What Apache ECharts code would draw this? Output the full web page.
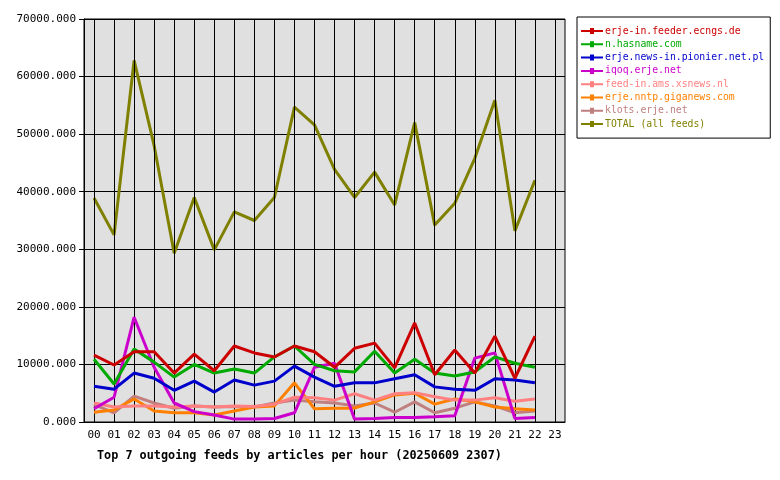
<!DOCTYPE html>
<html><head><meta charset="utf-8">
<script src="https://cdn.jsdelivr.net/npm/echarts@6/dist/echarts.min.js"></script>
<style>body{margin:0;background:#fff}#main{width:780px;height:480px}</style>
</head><body><div id="main"></div>
<script>
// hours 00..23
var hours = [];
for (var h = 0; h < 24; h++) hours.push((h < 10 ? '0' : '') + h);

var feederEcngs = [11600, 9900, 12200, 12200, 8500, 11800, 8900, 13200, 12000, 11300, 13200, 12200, 9500, 12800, 13700, 9400, 17200, 8200, 12500, 8500, 14900, 7600, 14900];
var hasname     = [10900, 6600, 12700, 10400, 7800, 10000, 8500, 9200, 8500, 11300, 13200, 10000, 8900, 8700, 12300, 8500, 10900, 8500, 8000, 8700, 11300, 10200, 9500];
var pionier     = [6200, 5700, 8500, 7600, 5500, 7100, 5200, 7300, 6400, 7100, 9700, 7800, 6200, 6800, 6800, 7500, 8200, 6100, 5700, 5500, 7500, 7300, 6800];
var iqoq        = [2300, 4300, 18200, 9500, 3300, 1800, 1200, 500, 500, 600, 1600, 9500, 10200, 500, 600, 800, 800, 900, 1100, 11100, 12000, 600, 800];
var xsnews      = [3300, 2600, 2800, 2800, 2600, 2800, 2600, 2800, 2700, 3100, 4300, 4200, 3800, 4900, 3800, 4900, 5100, 4400, 3800, 3800, 4200, 3600, 4000];
var giganews    = [1700, 2100, 4000, 1900, 1600, 1600, 1200, 1900, 2600, 2800, 6800, 2300, 2400, 2400, 3500, 4700, 5000, 3100, 4000, 3500, 2600, 2300, 2100];
var klots       = [3000, 1600, 4500, 3300, 2400, 2800, 2600, 2700, 2600, 3300, 3800, 3500, 3300, 2800, 3300, 1700, 3500, 1600, 2400, 3500, 2800, 1600, 1900];
var total       = [38900, 32500, 62800, 48000, 29300, 39000, 29900, 36500, 35000, 39000, 54700, 51600, 43900, 39000, 43400, 37700, 52000, 34200, 38000, 45800, 55900, 33200, 42000];

var names = ['erje-in.feeder.ecngs.de', 'n.hasname.com', 'erje.news-in.pionier.net.pl', 'iqoq.erje.net',
  'feed-in.ams.xsnews.nl', 'erje.nntp.giganews.com', 'klots.erje.net', 'TOTAL (all feeds)'];
var colors = ['#cc0000', '#00aa00', '#0000cc', '#cc00cc', '#ff8080', '#ff8000', '#c08080', '#808000'];
var values = [feederEcngs, hasname, pionier, iqoq, xsnews, giganews, klots, total];

var font = 'DejaVu Sans Mono';
var series = names.map(function (n, i) {
  return {name: n, type: 'line', data: values[i], showSymbol: false, symbol: 'none',
    color: colors[i], lineStyle: {width: 3, color: colors[i]}, z: i === 7 ? 3 : 12 - i};
});
// vertical grid lines through each hour label
series.push({
  type: 'line', data: [], silent: true, z: 1,
  markLine: {silent: true, symbol: 'none', label: {show: false},
    lineStyle: {color: '#000', width: 1, type: 'solid'},
    data: hours.map(function (h) { return {xAxis: h}; })}
});

var chart = echarts.init(document.getElementById('main'));
chart.setOption({
  animation: false,
  textStyle: {fontFamily: font},
  title: {
    text: 'Top 7 outgoing feeds by articles per hour (20250609 2307)',
    left: 92, top: 445,
    textStyle: {fontFamily: font, fontSize: 11.8, fontWeight: 'bold', color: '#000'}
  },
  legend: {
    orient: 'vertical', left: 577, top: 17,
    padding: [9, 6, 9, 4], itemGap: 3.3,
    borderColor: '#000', borderWidth: 1, backgroundColor: '#fff',
    itemWidth: 22, itemHeight: 12,
    icon: 'path://M0,5 L22,5 L22,7 L0,7 Z M9,3 L13,3 L13,9 L9,9 Z',
    data: names.map(function (n, i) { return {name: n, textStyle: {color: colors[i]}}; }),
    textStyle: {fontFamily: font, fontSize: 9.8, padding: [0, 0, 0, -3]}
  },
  grid: {left: 84, right: 215, top: 19, bottom: 58, backgroundColor: '#e0e0e0', show: true, borderColor: '#000', borderWidth: 1},
  xAxis: {
    type: 'category', data: hours, boundaryGap: true,
    axisLine: {lineStyle: {color: '#000'}},
    axisTick: {alignWithLabel: true, lineStyle: {color: '#000'}},
    axisLabel: {color: '#000', fontFamily: font, fontSize: 11, interval: 0},
    splitLine: {show: false}
  },
  yAxis: {
    type: 'value', min: 0, max: 70000, interval: 10000,
    axisLine: {show: true, lineStyle: {color: '#000'}},
    axisTick: {show: true, lineStyle: {color: '#000'}},
    axisLabel: {color: '#000', fontFamily: font, fontSize: 11, formatter: function (v) { return v.toFixed(3); }},
    splitLine: {lineStyle: {color: '#000'}}
  },
  series: series
});
</script>
</body></html>
